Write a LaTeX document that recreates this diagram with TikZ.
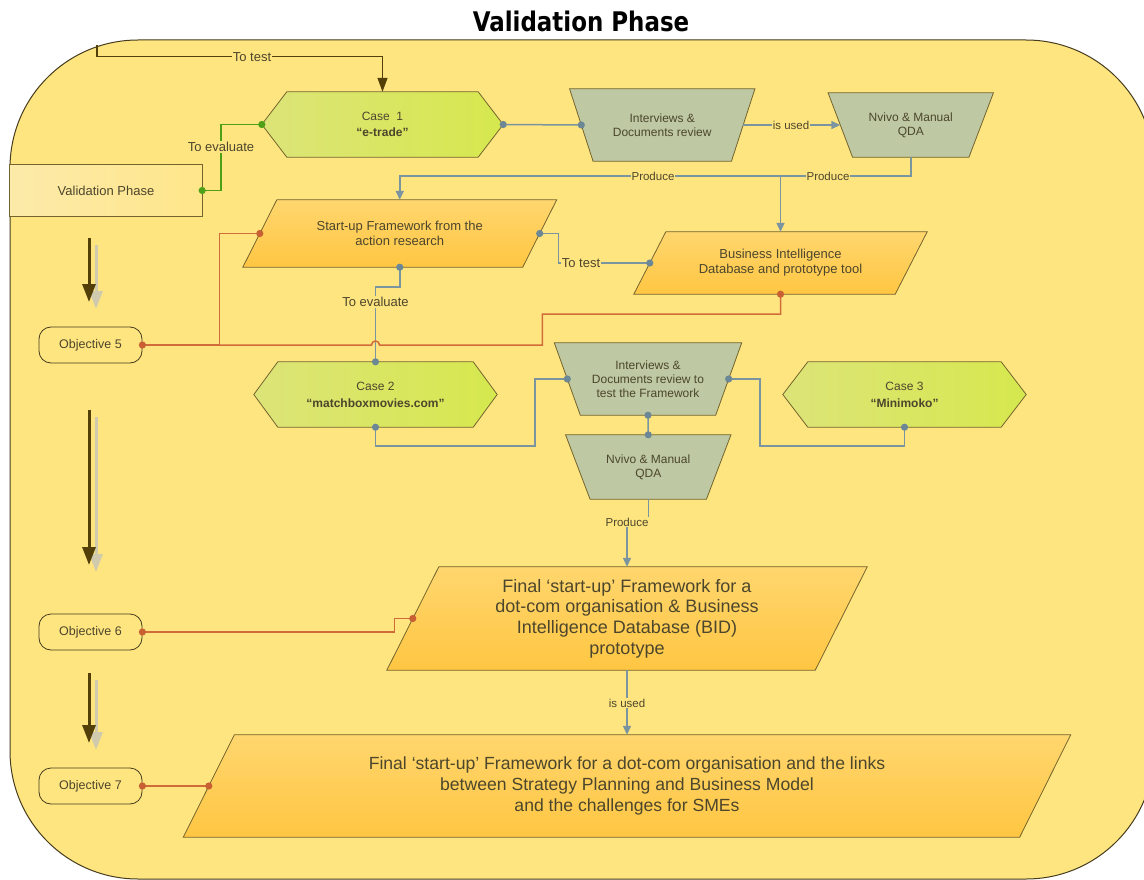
\documentclass[tikz,border=0pt]{standalone}
\usepackage{fontspec}
\setmainfont{Liberation Sans}
\newfontfamily\titlefont{DejaVu Sans}
\usetikzlibrary{arrows.meta,calc}
\pgfdeclarelayer{backdrop}
\pgfdeclarelayer{shapes}
\pgfsetlayers{backdrop,shapes,main}

\definecolor{paper}{RGB}{255,229,128}
\definecolor{frameline}{RGB}{70,60,30}
\definecolor{edge}{RGB}{115,100,45}
\definecolor{ink}{RGB}{76,70,44}
\definecolor{grayline}{RGB}{122,148,160}
\definecolor{graydot}{RGB}{108,136,150}
\definecolor{orangeline}{RGB}{208,108,58}
\definecolor{orangedot}{RGB}{200,96,52}
\definecolor{greenline}{RGB}{78,160,22}
\definecolor{olive}{RGB}{82,64,8}
\definecolor{shadowc}{RGB}{208,203,175}
\definecolor{trapfill}{RGB}{190,200,162}
\definecolor{orangetop}{RGB}{255,214,110}
\definecolor{orangebot}{RGB}{255,198,66}
\definecolor{greenleft}{RGB}{220,228,120}
\definecolor{greenright}{RGB}{214,232,78}
\definecolor{vpleft}{RGB}{252,234,170}
\definecolor{vpright}{RGB}{255,230,138}

% outlines drawn around the (invisible) text nodes
\newcommand{\drawhex}[3]{\draw[outline,#3] (#1.west) -- ([xshift=#2]#1.north west) -- ([xshift=-#2]#1.north east) -- (#1.east) -- ([xshift=-#2]#1.south east) -- ([xshift=#2]#1.south west) -- cycle;}
\newcommand{\drawpara}[3]{\draw[outline,#3] ([xshift=#2]#1.north west) -- ([xshift=#2]#1.north east) -- ([xshift=-#2]#1.south east) -- ([xshift=-#2]#1.south west) -- cycle;}
\newcommand{\drawtrap}[3]{\draw[outline,#3] ([xshift=-#2]#1.north west) -- ([xshift=#2]#1.north east) -- ([xshift=-#2]#1.south east) -- ([xshift=#2]#1.south west) -- cycle;}
% connection pins
\newcommand{\pinG}[1]{\fill[graydot] (#1) circle (3.6pt);}
\newcommand{\pinO}[1]{\fill[orangedot] (#1) circle (3.6pt);}
\newcommand{\pinV}[1]{\fill[greenline] (#1) circle (3.6pt);}

\tikzset{
  txt/.style={inner sep=0pt, align=center, text=ink},
  f12/.style={font=\fontsize{12}{14}\selectfont},
  f13/.style={font=\fontsize{13}{15}\selectfont},
  objbox/.style={draw=frameline, line width=0.8pt, rounded corners=12pt,
    minimum width=103pt, minimum height=36pt, inner sep=0pt, text=ink,
    font=\fontsize{12.5}{14}\selectfont},
  outline/.style={draw=edge, line width=0.8pt},
  grayconn/.style={draw=grayline, line width=1.5pt},
  orangeconn/.style={draw=orangeline, line width=1.5pt},
  greenconn/.style={draw=greenline, line width=1.5pt},
  gtip/.style={-{Triangle[length=9pt,width=8pt]}},
  lbl/.style={fill=paper, inner sep=1pt, text=ink, font=\fontsize{11.5}{13}\selectfont},
  lblb/.style={lbl, font=\fontsize{13}{15}\selectfont},
  bigarrow/.style={line width=3pt, -{Triangle[length=18pt,width=13pt]}},
}

\begin{document}
\begin{tikzpicture}[x=1pt,y=-1pt]
\useasboundingbox (0,0) rectangle (1144,880);
\begin{pgfonlayer}{backdrop}
  \fill[white] (0,0) rectangle (1144,880);
  \draw[draw=frameline, fill=paper, line width=1pt, rounded corners=128pt] (10,40) rectangle (1154,879);
\end{pgfonlayer}

\node[inner sep=0pt, text=black] (title) at (581,21.5)
  {\scalebox{0.85}[1]{\titlefont\bfseries\fontsize{27}{30}\selectfont Validation Phase}};

% boxes (text only; outlines on the shapes layer)
\node[txt,f12,minimum width=241pt,minimum height=65pt] (case1) at (382.5,124.5) {Case~~1\\[2pt]\textbf{“e-trade”}};
\node[txt,f12,minimum width=161.5pt,minimum height=72pt] (int1) at (662.25,125) {Interviews \&\\Documents review};
\node[txt,f12,minimum width=140.5pt,minimum height=64pt] (nv1) at (910.75,125) {Nvivo \& Manual\\QDA};
\node[txt,f13,minimum width=192pt,minimum height=51pt] (vp) at (106,190.5) {Validation Phase};
\node[txt,f13,minimum width=279.5pt,minimum height=67pt] (su) at (399.75,233.5) {Start-up Framework from the\\action research};
\node[txt,f13,minimum width=261pt,minimum height=62pt] (bi) at (780.5,263) {Business Intelligence\\Database and prototype tool};
\node[objbox] (o5) at (90.5,345) {Objective 5};
\node[txt,f12,minimum width=243pt,minimum height=65pt] (c2) at (375.5,394.5) {Case 2\\[3pt]\textbf{“matchboxmovies.com”}};
\node[txt,f12,minimum width=161pt,minimum height=72pt] (int2) at (648,379) {Interviews \&\\Documents review to\\test the Framework};
\node[txt,f12,minimum width=140.5pt,minimum height=64pt] (nv2) at (648.25,467) {Nvivo \& Manual\\QDA};
\node[txt,f12,minimum width=243pt,minimum height=65pt] (c3) at (904.5,394.5) {Case 3\\[3pt]\textbf{“Minimoko”}};
\node[txt,font=\fontsize{18}{20.7}\selectfont,minimum width=428pt,minimum height=103pt] (f1) at (627,618.5) {Final ‘start-up’ Framework for a\\dot-com organisation \& Business\\Intelligence Database (BID)\\prototype};
\node[objbox] (o6) at (90.5,632) {Objective 6};
\node[txt,font=\fontsize{17.6}{21}\selectfont,minimum width=836pt,minimum height=102pt] (f2) at (627,786) {Final ‘start-up’ Framework for a dot-com organisation and the links\\between Strategy Planning and Business Model\\and the challenges for SMEs};
\node[objbox] (o7) at (90.5,786) {Objective 7};

\begin{pgfonlayer}{shapes}
  \drawhex{case1}{25pt}{left color=greenleft,right color=greenright}
  \drawtrap{int1}{11.75pt}{fill=trapfill}
  \drawtrap{nv1}{12.25pt}{fill=trapfill}
  \draw[outline,left color=vpleft,right color=vpright] (vp.north west) rectangle (vp.south east);
  \drawpara{su}{17pt}{top color=orangetop,bottom color=orangebot}
  \drawpara{bi}{16pt}{top color=orangetop,bottom color=orangebot}
  \drawhex{c2}{24pt}{left color=greenleft,right color=greenright}
  \drawtrap{int2}{13pt}{fill=trapfill}
  \drawtrap{nv2}{12.25pt}{fill=trapfill}
  \drawhex{c3}{25pt}{left color=greenleft,right color=greenright}
  \drawpara{f1}{26pt}{top color=orangetop,bottom color=orangebot}
  \drawpara{f2}{25.5pt}{top color=orangetop,bottom color=orangebot}
\end{pgfonlayer}

% progress arrows down the left side
\coordinate (a1s) at (89,238); \coordinate (a1e) at (89,302);
\coordinate (a2s) at (89,410); \coordinate (a2e) at (89,565);
\coordinate (a3s) at (89,673); \coordinate (a3e) at (89,743);
\foreach \s/\e in {a1s/a1e,a2s/a2e,a3s/a3e}{
  \draw[shadowc,bigarrow] ($(\s)+(7,7)$) -- ($(\e)+(7,7)$);
  \draw[olive,bigarrow] (\s) -- (\e);
}

% connectors
\coordinate (ttstart) at (97,45);
\draw[olive, line width=1.4pt, -{Triangle[length=14pt,width=10pt]}] (ttstart) |- ($(case1.north)+(0,-35)$) -- (case1.north);
\draw[greenconn] (vp.east) -- ++(19,0) |- (case1.west);
\draw[grayconn] (case1.east) -- (int1.west);
\draw[grayconn,gtip] (int1.east) -- (nv1.west);
\coordinate (pjoin) at ($(su.north)+(0,-24)$);
\draw[grayconn,gtip] (nv1.south) |- (pjoin) -- (su.north);
\draw[grayconn,gtip] (bi.north |- pjoin) -- (bi.north);
\draw[grayconn] (su.east) -- ++(19,0) |- (bi.west);
\draw[grayconn] (su.south) -- ++(0,20) -| (c2.north);
\draw[orangeconn] (o5.east) -- ++(77,0) |- (su.west);
\draw[orangeconn] (o5.east) -- ($(c2.north |- o5.east)+(-4,0)$) arc[start angle=180,end angle=0,radius=4pt] -- ($(o5.east)+(400,0)$) |- ($(bi.south)+(0,20)$) -- (bi.south);
\draw[grayconn] (c2.south) -- ++(0,19) -| ($(int2.west)+(-32.5,0)$) -- (int2.west);
\draw[grayconn] (int2.east) -- ++(31.5,0) |- ($(c3.south)+(0,19)$) -- (c3.south);
\draw[grayconn] (int2.south) -- (nv2.north);
\draw[grayconn,gtip] (nv2.south) |- ($(f1.north)+(0,-45)$) -- (f1.north);
\draw[grayconn,gtip] (f1.south) -- (f2.north);
\draw[orangeconn] (o6.east) -- ++(252,0) |- (f1.west);
\draw[orangeconn] (o7.east) -- (f2.west);

% connector labels
\node[lblb] (lt1) at (252,57) {To test};
\node[lblb] (lt2) at (221,147) {To evaluate};
\node[lbl] (lu1) at (791,125) {is used};
\node[lbl] (lp1) at (828,176) {Produce};
\node[lbl] (lp2) at (653,176) {Produce};
\node[lblb] (lt3) at (581,263) {To test};
\node[lblb] (lt4) at (375.5,302) {To evaluate};
\node[lbl] (lp3) at (627,522) {Produce};
\node[lbl] (lu2) at (627,703) {is used};

% pins
\pinV{vp.east} \pinV{case1.west}
\pinG{case1.east} \pinG{int1.west}
\pinG{su.east} \pinG{bi.west} \pinG{su.south} \pinG{c2.north}
\pinG{c2.south} \pinG{int2.west} \pinG{int2.east} \pinG{c3.south}
\pinG{int2.south} \pinG{nv2.north}
\pinO{o5.east} \pinO{su.west} \pinO{bi.south}
\pinO{o6.east} \pinO{f1.west} \pinO{o7.east} \pinO{f2.west}
\end{tikzpicture}
\end{document}
